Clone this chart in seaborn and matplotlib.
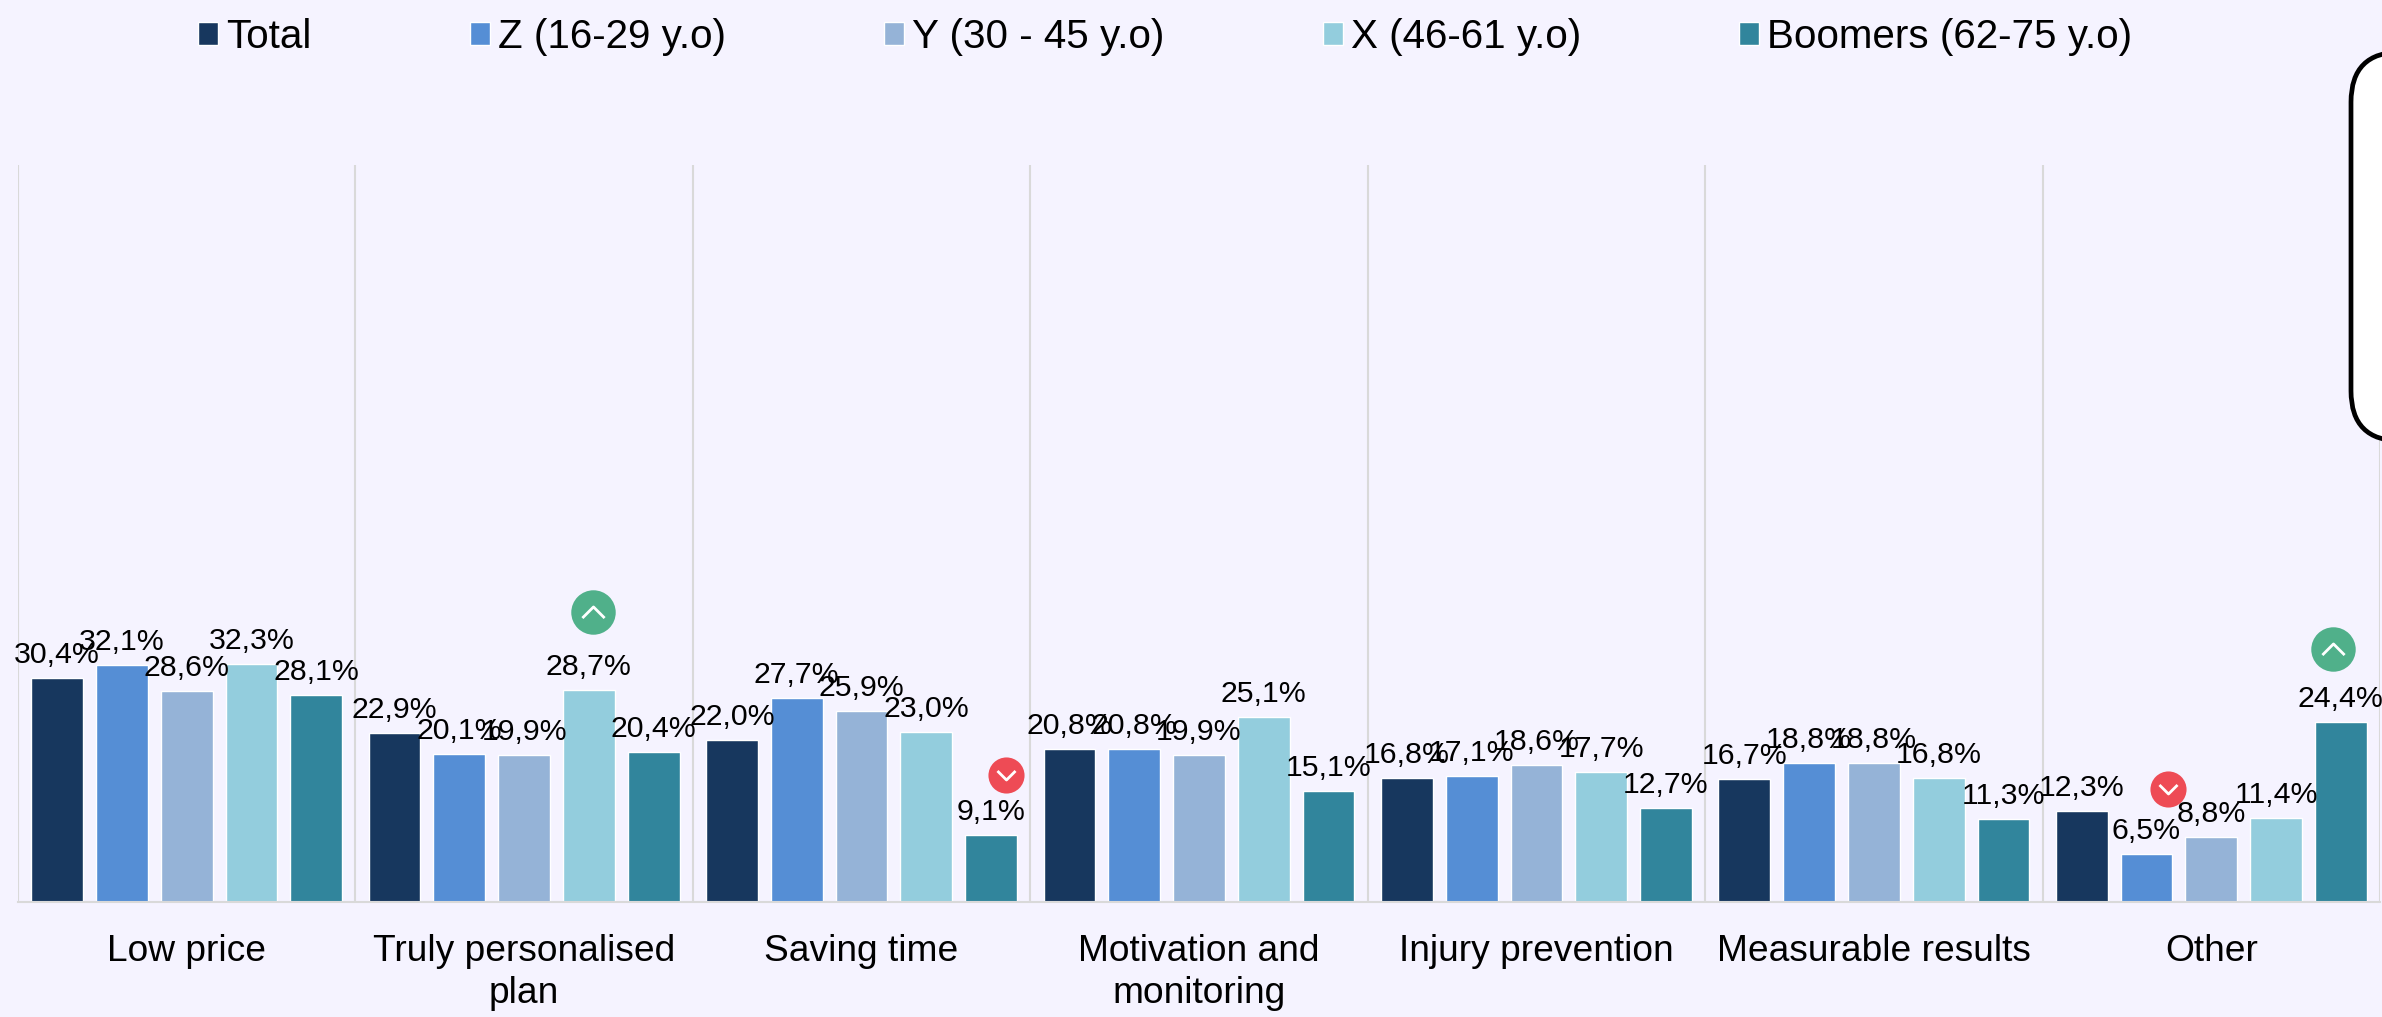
import pandas as pd
import numpy as np
import seaborn as sns
import matplotlib.pyplot as plt
from matplotlib.patches import FancyBboxPatch
from matplotlib.path import Path
from matplotlib.transforms import IdentityTransform

categories = ['Low price', 'Truly personalised\nplan', 'Saving time', 'Motivation and\nmonitoring',
              'Injury prevention', 'Measurable results', 'Other']
groups = ['Total', 'Z (16-29 y.o)', 'Y (30 - 45 y.o)', 'X (46-61 y.o)', 'Boomers (62-75 y.o)']
total = [30.4, 22.9, 22.0, 20.8, 16.8, 16.7, 12.3]
gen_z = [32.1, 20.1, 27.7, 20.8, 17.1, 18.8, 6.5]
gen_y = [28.6, 19.9, 25.9, 19.9, 18.6, 18.8, 8.8]
gen_x = [32.3, 28.7, 23.0, 25.1, 17.7, 16.8, 11.4]
boomers = [28.1, 20.4, 9.1, 15.1, 12.7, 11.3, 24.4]
colors = ['#17375E', '#558ED5', '#95B3D7', '#93CDDD', '#31859C']

# which bar gets a badge: (category, group, up or down, shift sideways, height above the bar)
badges = [(1, 3, 'up', 0.013, 10.7), (2, 4, 'down', 0.045, 8.1), (6, 1, 'down', 0.063, 8.9), (6, 4, 'up', -0.023, 9.9)]

bg = '#F5F3FF'
grey = '#D9D9D9'

sns.set_theme(style='white')
plt.rcParams['font.family'] = ['Liberation Sans', 'DejaVu Sans']

df = pd.DataFrame({'category': categories, groups[0]: total, groups[1]: gen_z, groups[2]: gen_y,
                   groups[3]: gen_x, groups[4]: boomers})
long_df = df.melt(id_vars='category', var_name='group', value_name='share')

fig = plt.figure(figsize=(23.82, 10.17), dpi=100, facecolor=bg)
ax = fig.add_axes([18 / 2382, 115 / 1017, 2362 / 2382, 737 / 1017], facecolor=bg)

sns.barplot(data=long_df, x='category', y='share', hue='group', hue_order=groups, order=categories,
            palette=colors, saturation=1, width=0.96, gap=0.2, ax=ax)

ax.set_xlim(-0.5, 6.5)
ax.set_ylim(0, 100)
ax.set_xlabel('')
ax.set_ylabel('')
ax.set_yticks([])
sns.despine(ax=ax, left=True)
ax.spines['bottom'].set_color(grey)
ax.spines['bottom'].set_linewidth(1.5)

ax.set_xticks(np.arange(-0.5, 7), minor=True)
ax.grid(which='minor', axis='x', color=grey, linewidth=1.5)
ax.set_axisbelow(True)
ax.tick_params(axis='x', which='major', length=0, pad=23, labelsize=26.7, labelcolor='black')
ax.tick_params(axis='x', which='minor', length=8, width=1.5, color=grey)
for tick_label in ax.get_xticklabels():
    tick_label.set_linespacing(1.25)

for container, values in zip(ax.containers, [total, gen_z, gen_y, gen_x, boomers]):
    labels = [f'{v:.1f}%'.replace('.', ',') for v in values]
    ax.bar_label(container, labels=labels, padding=6.5, fontsize=21.8, color='black')

chevrons = {'up': Path([(-1, -0.5), (0, 0.5), (1, -0.5)]), 'down': Path([(-1, 0.5), (0, -0.5), (1, 0.5)])}
for cat, grp, direction, shift, above in badges:
    bar = ax.containers[grp][cat]
    x = bar.get_x() + bar.get_width() / 2 + shift
    y = bar.get_height() + above
    up = direction == 'up'
    ax.plot([x], [y], marker='o', ms=32 if up else 26, mfc='#50B08A' if up else '#EE4B55', mec='none', ls='none')
    ax.plot([x], [y], marker=chevrons[direction], ms=16 if up else 13, mfc='none', mec='white', mew=2, ls='none')

handles, labels = ax.get_legend_handles_labels()
ax.legend(handles, labels, loc='center left', bbox_to_anchor=(198 / 2382, 980 / 1017),
          bbox_transform=fig.transFigure, ncol=5, frameon=False, fontsize=29.1, labelcolor='black',
          handlelength=0.5, handleheight=0.5, handletextpad=0.19, columnspacing=3.92, borderpad=0,
          borderaxespad=0)

# callout box running off the right edge
callout = FancyBboxPatch((2351 + 45, 576 + 45), 300, 389 - 90, boxstyle='round,pad=45,rounding_size=50',
                         transform=IdentityTransform(), facecolor='white', edgecolor='black',
                         linewidth=3.4, zorder=5)
fig.add_artist(callout)

fig.savefig('out.png', dpi=100, facecolor=bg)
